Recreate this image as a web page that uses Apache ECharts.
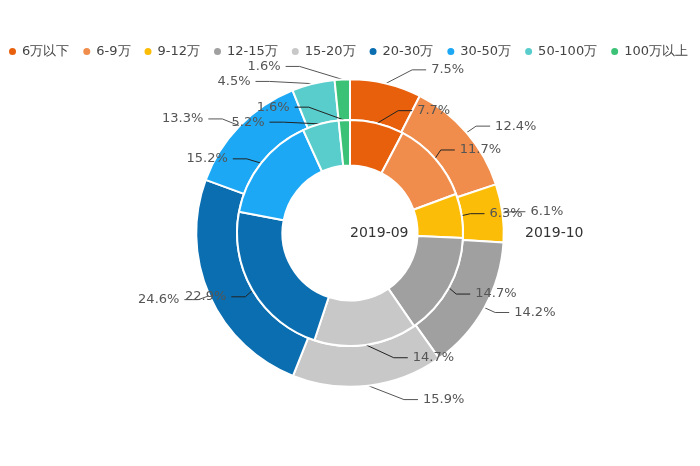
<!DOCTYPE html>
<html><head><meta charset="utf-8">
<script src="https://cdn.jsdelivr.net/npm/echarts@6/dist/echarts.min.js"></script>
<style>html,body{margin:0;padding:0;background:#fff}#c{width:700px;height:466px}</style>
</head><body><div id="c"></div>
<script>
const categories = ['6万以下','6-9万','9-12万','12-15万','15-20万','20-30万','30-50万','50-100万','100万以上'];
const values201909 = [7.7, 11.7, 6.3, 14.7, 14.7, 22.9, 15.2, 5.2, 1.6];
const values201910 = [7.5, 12.4, 6.1, 14.2, 15.9, 24.6, 13.3, 4.5, 1.6];
const colors = ['#e8600c','#f08d4c','#fbbd08','#a0a0a0','#c8c8c8','#0a6eb0','#1ca8f4','#58cdcc','#3cc277'];
// label-line segment lengths (style only)
const outerLen1 = [14, 10, 10, 10, 14, 10, 10, 16, 13];
const outerLen2 = [37, 16, 13, 16, 48, 16, 27, 28, 56];
const innerLen1 = [13, 13, 13, 13, 13, 13, 7, 13, 13];
const innerLen2 = [32, 10, 10, 10, 40, 10, 25, 25, 49];

const chart = echarts.init(document.getElementById('c'));
const font = '"DejaVu Sans", sans-serif';
// reshape guide lines: diagonal from slice, then short horizontal stub to the label
function bendLine(params) {
  const pts = params.labelLinePoints;
  if (!pts || pts.length < 3) return {};
  const p0 = pts[0], p2 = pts[2];
  const dir = p2[0] >= p0[0] ? 1 : -1;
  return { labelLinePoints: [p0, [p2[0] - dir * 14, p2[1]], p2] };
}
chart.setOption({
  animation: false,
  color: colors,
  textStyle: { fontFamily: font },
  legend: {
    left: 2, top: 40,
    icon: 'circle', itemWidth: 9, itemHeight: 9, itemGap: 12,
    textStyle: { fontSize: 13, color: '#444', fontFamily: font },
    data: categories
  },
  graphic: [
    { type: 'text', left: 350, top: 226, style: { text: '2019-09', fill: '#333', font: '14px ' + font } },
    { type: 'text', left: 525, top: 226, style: { text: '2019-10', fill: '#333', font: '14px ' + font } }
  ],
  series: [
    {
      name: '2019-10', type: 'pie', center: ['50%','50%'], radius: ['48.5%','66%'],
      z: 2,
      itemStyle: { borderColor: '#fff', borderWidth: 2 },
      label: { formatter: '{c}%', fontSize: 13, color: '#555', fontFamily: font },
      labelLine: { length: 10, length2: 16, lineStyle: { color: '#555' } },
      labelLayout: bendLine,
      data: categories.map((n,i)=>({name:n, value: values201910[i], labelLine: { length: outerLen1[i], length2: outerLen2[i] }}))
    },
    {
      name: '2019-09', type: 'pie', center: ['50%','50%'], radius: ['29%','48.5%'],
      z: 4,
      itemStyle: { borderColor: '#fff', borderWidth: 2 },
      label: { formatter: '{c}%', fontSize: 13, color: '#555', fontFamily: font },
      labelLine: { length: 13, length2: 10, lineStyle: { color: '#222' } },
      labelLayout: bendLine,
      data: categories.map((n,i)=>({name:n, value: values201909[i], labelLine: { length: innerLen1[i], length2: innerLen2[i] }}))
    }
  ]
});
</script></body></html>
